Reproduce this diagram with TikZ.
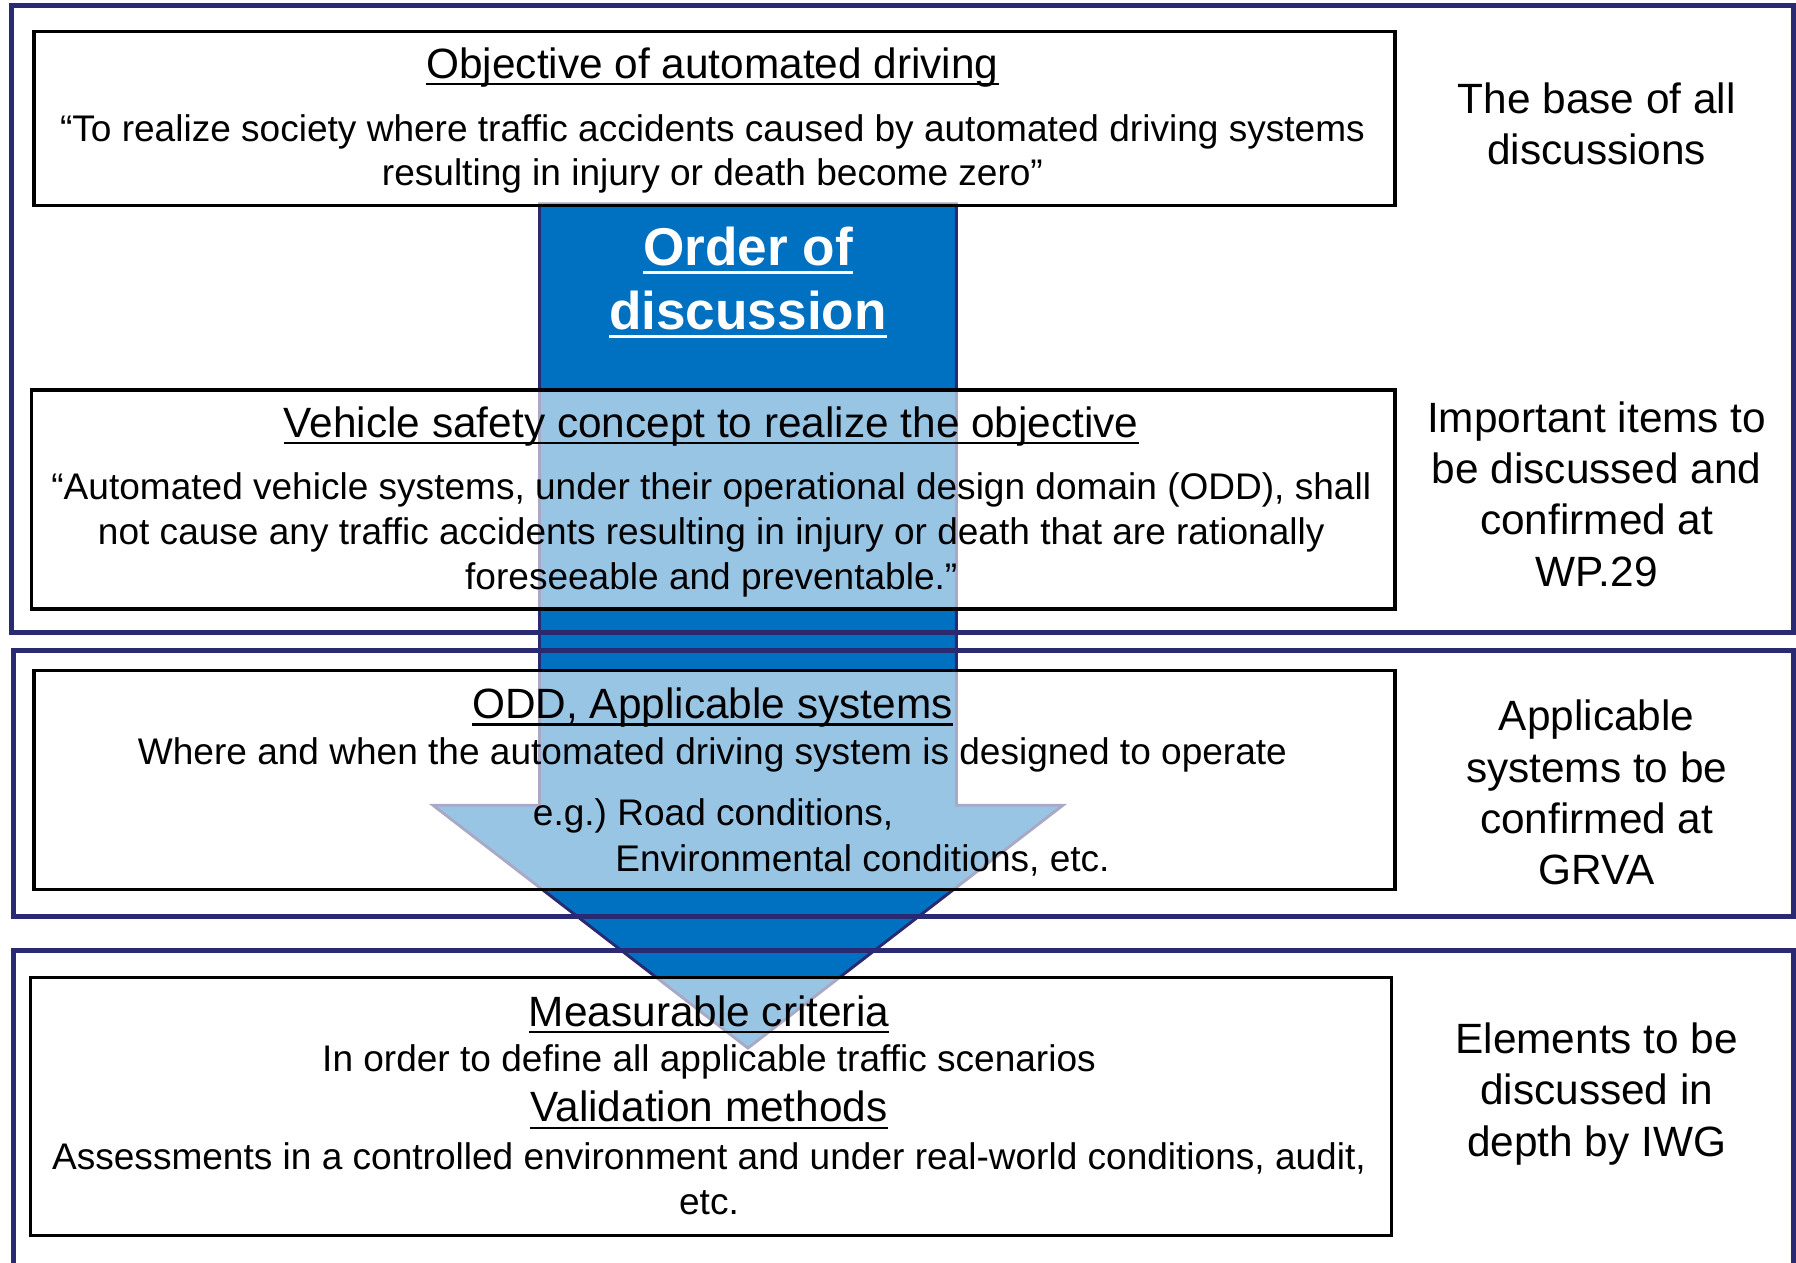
\documentclass[tikz,border=0pt]{standalone}
\usepackage{fontspec}
\setmainfont{Liberation Sans}
\definecolor{framenavy}{HTML}{2A2A72}
\definecolor{arrowblue}{HTML}{0070C0}
\newcommand{\undl}[1]{\setbox0\hbox{#1}\rlap{\vrule width\wd0 height -0.11em depth 0.16em}\box0}
\frenchspacing

\begin{document}
\begin{tikzpicture}[x=0.025cm,y=-0.025cm,
  frame/.style={draw=framenavy,line width=2.8pt},
  box/.style={draw=black,line width=2.2pt,fill=white,fill opacity=0.6,anchor=north west,inner sep=0pt},
  head/.style={inner sep=0pt,font=\fontsize{26.3}{31.5}\selectfont},
  body/.style={inner sep=0pt,align=center,font=\fontsize{23}{27.7}\selectfont},
  side/.style={inner sep=0pt,align=center,font=\fontsize{26.3}{31.8}\selectfont},
  order/.style={inner sep=0pt,align=center,text=white,font=\fontsize{33}{39.8}\selectfont\bfseries}]

\useasboundingbox (0,0) rectangle (1568,1102);
\clip (0,0) rectangle (1568,1102);

% flecha
\draw[fill=arrowblue,draw=framenavy,line width=1.8pt]
  (471,178) -- (835,178) -- (835,703) -- (928,703) -- (653,915)
  -- (378,703) -- (471,703) -- cycle;

% quadros
\draw[frame] (10,5) rectangle (1566,552);
\draw[frame] (12,568) rectangle (1566,800);
\draw[frame] (12,830) rectangle (1566,1140);

% caixas
\node[box,minimum width=29.7cm,minimum height=3.8cm] (objective) at (28,26) {};
\node[box,minimum width=29.75cm,minimum height=4.775cm] (concept) at (26,339) {};
\node[box,minimum width=29.7cm,minimum height=4.775cm] (odd) at (28,584) {};
\node[box,minimum width=29.7cm,minimum height=5.625cm] (criteria) at (25,852) {};

\node[order] (orderlbl) at (653,246.5) {\undl{Order of}\\\undl{discussion}};

% textos das caixas
\node[head] (objhead) at (622,59) {\undl{Objective of automated driving}};
\node[body] (objtext) at (622,134.5) {“To realize society where traffic accidents caused by automated driving systems\\resulting in injury or death become zero”};

\node[head] (conhead) at (621,372) {\undl{Vehicle safety concept to realize the objective}};
\node[body] (context) at (621,467) {“Automated vehicle systems, under their operational design domain (ODD), shall\\not cause any traffic accidents resulting in injury or death that are rationally\\foreseeable and preventable.”};

\node[head] (oddhead) at (622,618) {\undl{ODD, Applicable systems}};
\node[body] (oddtext) at (622,659) {Where and when the automated driving system is designed to operate};
\node[body,anchor=west] (oddeg) at (465,712) {e.g.) Road conditions,};
\node[body,anchor=west] (oddenv) at (537,751) {Environmental conditions, etc.};

\node[head] (crithead) at (619,885.5) {\undl{Measurable criteria}};
\node[body] (crittext) at (619,927) {In order to define all applicable traffic scenarios};
\node[head] (valhead) at (619,969) {\undl{Validation methods}};
\node[body] (valtext) at (619,1029) {Assessments in a controlled environment and under real-world conditions, audit,\\etc.};

% textos laterais
\node[side] (base) at (1394,108) {The base of all\\discussions};
\node[side] (wp) at (1394,431.5) {Important items to\\be discussed and\\confirmed at\\WP.29};
\node[side] (grva) at (1394,692) {Applicable\\systems to be\\confirmed at\\GRVA};
\node[side] (iwg) at (1394,955) {Elements to be\\discussed in\\depth by IWG};

\end{tikzpicture}
\end{document}
